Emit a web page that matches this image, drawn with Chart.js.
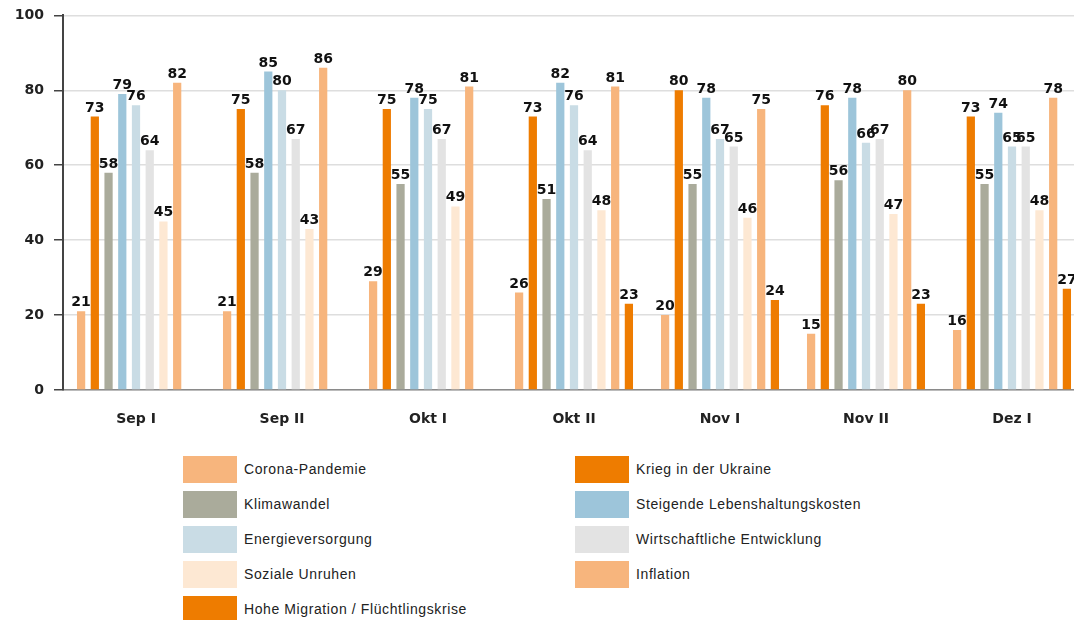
<!DOCTYPE html>
<html lang="de">
<head>
<meta charset="utf-8">
<title>Sorgen</title>
<script src="https://cdn.jsdelivr.net/npm/chart.js@4.4.1/dist/chart.umd.min.js"></script>
<style>
  html, body { margin: 0; padding: 0; background: #fff; overflow: hidden; }
  body { width: 1074px; height: 620px; position: relative; }
  #box { position: absolute; left: 0; top: -3px; width: 1090px; height: 443px; }
  .leg { position: absolute; height: 27px; }
  .leg span.sw { position: absolute; left: 0; top: 0; width: 54px; height: 27px; }
  .leg span.tx { position: absolute; left: 61px; top: 0; line-height: 27px; white-space: nowrap;
    font-family: "Liberation Sans", Arial, sans-serif; font-size: 14px; letter-spacing: 0.6px; color: #222; }
</style>
</head>
<body>
<div id="box"><canvas id="grafico"></canvas></div>
<div id="leyenda"></div>

<script>
// categorias (x)
const zeitraum = ["Sep I", "Sep II", "Okt I", "Okt II", "Nov I", "Nov II", "Dez I"];

// werte pro thema (null = nicht abgefragt)
const corona = [21, 21, 29, 26, 20, 15, 16];
const krieg = [73, 75, 75, 73, 80, 76, 73];
const klima = [58, 58, 55, 51, 55, 56, 55];
const lebenshaltung = [79, 85, 78, 82, 78, 78, 74];
const energie = [76, 80, 75, 76, 67, 66, 65];
const wirtschaft = [64, 67, 67, 64, 65, 67, 65];
const unruhen = [45, 43, 49, 48, 46, 47, 48];
const inflation = [82, 86, 81, 81, 75, 80, 78];
const migration = [null, null, null, 23, 24, 23, 27];

const yTicks = [0, 20, 40, 60, 80, 100];

const series = [
  { label: "Corona-Pandemie", data: corona, color: "#F7B57D" },
  { label: "Krieg in der Ukraine", data: krieg, color: "#EE7C00" },
  { label: "Klimawandel", data: klima, color: "#AAAB9B" },
  { label: "Steigende Lebenshaltungskosten", data: lebenshaltung, color: "#9DC5DA" },
  { label: "Energieversorgung", data: energie, color: "#C9DCE5" },
  { label: "Wirtschaftliche Entwicklung", data: wirtschaft, color: "#E3E3E3" },
  { label: "Soziale Unruhen", data: unruhen, color: "#FDE8D3" },
  { label: "Inflation", data: inflation, color: "#F7B57D" },
  { label: "Hohe Migration / Flüchtlingskrise", data: migration, color: "#EE7C00" },
];

const boldFont = { family: "'DejaVu Sans', Verdana, sans-serif", size: 14, weight: "bold" };

// zahlen ueber den balken
const etiquetas = {
  id: "etiquetas",
  afterDatasetsDraw(chart) {
    const ctx = chart.ctx;
    ctx.save();
    ctx.font = "bold 14px 'DejaVu Sans', Verdana, sans-serif";
    ctx.fillStyle = "#111";
    ctx.textAlign = "center";
    ctx.textBaseline = "alphabetic";
    chart.data.datasets.forEach((ds, i) => {
      const meta = chart.getDatasetMeta(i);
      meta.data.forEach((bar, j) => {
        const v = ds.data[j];
        if (v === null || v === undefined) return;
        ctx.fillText(String(v), bar.x, bar.y - 5);
      });
    });
    ctx.restore();
  },
};

const ctx = document.getElementById("grafico").getContext("2d");
const myChart = new Chart(ctx, {
  type: "bar",
  data: {
    labels: zeitraum,
    datasets: series.map((s) => ({
      label: s.label,
      data: s.data,
      backgroundColor: s.color,
      borderWidth: 0,
      categoryPercentage: 0.846,
      barPercentage: 0.6,
    })),
  },
  options: {
    responsive: true,
    maintainAspectRatio: false,
    animation: false,
    layout: { padding: { top: 7, right: 5, left: 0, bottom: 0 } },
    plugins: {
      legend: { display: false },
      tooltip: { enabled: false },
    },
    scales: {
      x: {
        grid: { display: false, drawTicks: false },
        border: { display: true, color: "#8a8a8a", width: 1.5 },
        ticks: { font: boldFont, color: "#222", padding: 21 },
        afterFit(scale) { scale.height = 50; },
      },
      y: {
        min: 0,
        max: 100,
        afterBuildTicks(scale) { scale.ticks = yTicks.map((v) => ({ value: v })); },
        grid: { color: "#dedede", lineWidth: 1.5, tickLength: 9, tickColor: "#444" },
        border: { display: true, color: "#444", width: 2 },
        ticks: { font: boldFont, color: "#222", padding: 10 },
        afterFit(scale) { scale.width = 63; },
      },
    },
  },
  plugins: [etiquetas],
});

// legende in zwei spalten
const leyenda = document.getElementById("leyenda");
const spalteX = [183, 575];
const zeileY = [456, 491, 526, 561, 596];
series.forEach((s, i) => {
  const d = document.createElement("div");
  d.className = "leg";
  d.style.left = spalteX[i % 2] + "px";
  d.style.top = zeileY[Math.floor(i / 2)] + "px";
  d.innerHTML = '<span class="sw"></span><span class="tx"></span>';
  d.querySelector(".sw").style.background = s.color;
  d.querySelector(".tx").textContent = s.label;
  leyenda.appendChild(d);
});
</script>
</body>
</html>
